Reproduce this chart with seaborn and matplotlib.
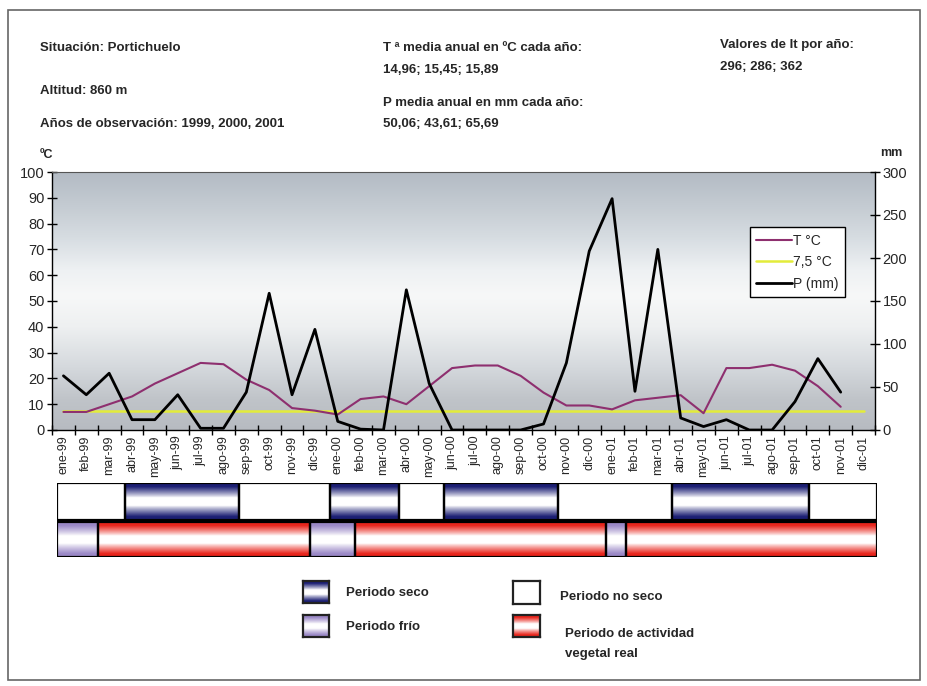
import numpy as np
import pandas as pd
import matplotlib
matplotlib.use("Agg")
import matplotlib.pyplot as plt
from matplotlib.colors import to_rgb
from matplotlib.patches import Rectangle
from matplotlib.lines import Line2D
import seaborn as sns

# ---------------- data ----------------
months = ["ene-99", "feb-99", "mar-99", "abr-99", "may-99", "jun-99", "jul-99", "ago-99",
          "sep-99", "oct-99", "nov-99", "dic-99",
          "ene-00", "feb-00", "mar-00", "abr-00", "may-00", "jun-00", "jul-00", "ago-00",
          "sep-00", "oct-00", "nov-00", "dic-00",
          "ene-01", "feb-01", "mar-01", "abr-01", "may-01", "jun-01", "jul-01", "ago-01",
          "sep-01", "oct-01", "nov-01", "dic-01"]
temp_c = [7, 7, 10, 13, 18, 22, 26, 25.5, 19.5, 15.5, 8.5, 7.5,
          6, 12, 13, 10, 17, 24, 25, 25, 21, 14.5, 9.5, 9.5,
          8, 11.5, 12.5, 13.5, 6.5, 24, 24, 25.3, 23, 17, 9, np.nan]
threshold_c = [7.5] * 36
precip_mm = [63, 41, 66, 12, 12, 41, 2, 2, 44, 159, 41, 117,
             10, 1, 0, 163, 54, 0, 0, 0, 0, 7, 78, 208,
             269, 45, 210, 14, 4, 12, 0, 0, 33, 83, 44, np.nan]

# periods in month units (0 = start of ene-99)
dry_periods = [(3, 8), (12, 15), (17, 22), (27, 33)]
wet_periods = [(0, 3), (8, 12), (15, 17), (22, 27), (33, 36)]
cold_periods = [(0, 1.8), (11.1, 13.1), (24.1, 25.0)]
active_periods = [(1.8, 11.1), (13.1, 24.1), (25.0, 36)]

header_left = ["Situación: Portichuelo", "Altitud: 860 m", "Años de observación: 1999, 2000, 2001"]
header_mid = ["T ª media anual en ºC cada año:", "14,96; 15,45; 15,89",
              "P media anual en mm cada año:", "50,06; 43,61; 65,69"]
header_right = ["Valores de It por año:", "296; 286; 362"]

# ---------------- style ----------------
sns.set_style("ticks")
plt.rcParams["font.family"] = ["Liberation Sans", "DejaVu Sans"]

W, H = 928, 686
fig = plt.figure(figsize=(W / 100, H / 100), dpi=100)


def fx(x):
    return x / W


def fy(y):
    return 1 - y / H


def box(x0, y0, x1, y1):
    return [fx(x0), fy(y1), (x1 - x0) / W, (y1 - y0) / H]


# outer frame
fig.add_artist(Rectangle((fx(8), fy(680)), (920 - 8) / W, (680 - 10) / H,
                         transform=fig.transFigure, fill=False, ec="#666666", lw=1.2))

# header texts
bold = dict(fontsize=9.5, fontweight="bold", va="center", ha="left")
fig.text(fx(40), fy(48), header_left[0], **bold)
fig.text(fx(40), fy(91), header_left[1], **bold)
fig.text(fx(40), fy(124), header_left[2], **bold)
fig.text(fx(383), fy(48), header_mid[0], **bold)
fig.text(fx(383), fy(70), header_mid[1], **bold)
fig.text(fx(383), fy(103), header_mid[2], **bold)
fig.text(fx(383), fy(124), header_mid[3], **bold)
fig.text(fx(720), fy(45), header_right[0], **bold)
fig.text(fx(720), fy(67), header_right[1], **bold)

# ---------------- main chart ----------------
ax = fig.add_axes(box(52, 172, 875, 430))
x = np.arange(len(months))

# background gradient
stops = [0.0, 0.12, 0.25, 0.4, 0.52, 0.62, 0.75, 0.88, 1.0]
cols = ["#b7bbc1", "#c0c4c9", "#d6dade", "#eef0f1", "#f7f8f8", "#eef1f3", "#d6dce1", "#c3cad1", "#b3bbc4"]
ys = np.linspace(0, 1, 256)
rgb = np.array([to_rgb(c) for c in cols])
bg = np.stack([np.interp(ys, stops, rgb[:, k]) for k in range(3)], axis=1)[::-1][:, None, :]
ax.imshow(bg, extent=(0, 1, 0, 1), transform=ax.transAxes, aspect="auto", zorder=0)

df = pd.DataFrame({"x": x, "T": temp_c, "thr": threshold_c, "P": precip_mm})
sns.lineplot(data=df, x="x", y="thr", ax=ax, color="#e3ec3a", lw=1.8, zorder=2)
sns.lineplot(data=df, x="x", y="T", ax=ax, color="#8e2f6f", lw=1.5, zorder=3)
ax.set_xlim(-0.5, len(months) - 0.5)
ax.set_ylim(0, 100)
ax.set_yticks(np.arange(0, 101, 10))
ax.set_xticks(np.arange(-0.5, len(months), 1))
ax.set_xticklabels([])
ax.set_xticks(x, minor=True)
ax.set_xticklabels(months, minor=True, rotation=90, fontsize=9)
ax.tick_params(axis="x", which="minor", length=0, pad=4)
ax.tick_params(axis="x", which="major", direction="inout", length=7, width=1, color="black")
ax.tick_params(axis="y", direction="inout", length=7, width=1, labelsize=10.5, pad=2, color="black")
ax.set_xlabel("")
ax.set_ylabel("")
ax.spines["right"].set_visible(False)
ax.spines["top"].set_color("#555555")
ax.spines["top"].set_linewidth(0.8)
for s in ["left", "bottom"]:
    ax.spines[s].set_color("black")
    ax.spines[s].set_linewidth(1)

ax2 = ax.twinx()
sns.lineplot(data=df, x="x", y="P", ax=ax2, color="black", lw=2.0, zorder=4)
ax2.set_ylim(0, 300)
ax2.set_yticks(np.arange(0, 301, 50))
ax2.tick_params(axis="y", direction="inout", length=7, width=1, labelsize=10.5, pad=2, color="black")
ax2.set_ylabel("")
ax2.set_xlabel("")
for s in ["top", "left", "bottom"]:
    ax2.spines[s].set_visible(False)
ax2.spines["right"].set_color("black")
ax2.spines["right"].set_linewidth(1)

fig.text(fx(40), fy(155), "ºC", fontsize=9, fontweight="bold", va="center", ha="left")
fig.text(fx(880), fy(153), "mm", fontsize=9, fontweight="bold", va="center", ha="left")

handles = [Line2D([], [], color="#8e2f6f", lw=1.5),
           Line2D([], [], color="#e3ec3a", lw=1.8),
           Line2D([], [], color="black", lw=2.0)]
leg = ax2.legend(handles, ["T °C", "7,5 °C", "P (mm)"], loc="upper left",
                 bbox_to_anchor=(0.848, 0.785), fontsize=10, frameon=True, fancybox=False,
                 borderpad=0.45, labelspacing=0.55, handlelength=2.6, handletextpad=0.05,
                 borderaxespad=0)
leg.get_frame().set_edgecolor("black")
leg.get_frame().set_linewidth(1)
leg.get_frame().set_facecolor("white")
leg.get_frame().set_alpha(1)


# ---------------- period bars ----------------
def grad_img(color, n=80):
    t = np.linspace(0, 1, n)
    w = np.clip((np.abs(t - 0.5) * 2 - 0.22) / 0.6, 0, 1) ** 0.85
    c = np.array(to_rgb(color))
    img = (1 - w)[:, None] * np.ones(3) + w[:, None] * c
    return img[:, None, :]


NAVY = "#1c1f74"
RED = "#e8251c"
LAV = "#9a88c6"

bax = fig.add_axes(box(57, 483, 877, 557))
bax.set_xlim(0, 36)
bax.set_ylim(0, 74)
bax.axis("off")
row1 = (74 - 37, 74)   # y range top row
row2 = (0, 35)


def seg(a, b, rng, color):
    if color is not None:
        bax.imshow(grad_img(color), extent=(a, b, rng[0], rng[1]), aspect="auto", zorder=1)
    else:
        bax.add_patch(Rectangle((a, rng[0]), b - a, rng[1] - rng[0], fc="white", ec="none", zorder=1))
    bax.add_patch(Rectangle((a, rng[0]), b - a, rng[1] - rng[0], fill=False, ec="black", lw=1.6, zorder=2))


for a, b in dry_periods:
    seg(a, b, row1, NAVY)
for a, b in wet_periods:
    seg(a, b, row1, None)
for a, b in cold_periods:
    seg(a, b, row2, LAV)
for a, b in active_periods:
    seg(a, b, row2, RED)
bax.set_xlim(0, 36)
bax.set_ylim(0, 74)


# ---------------- bottom legend ----------------
def legend_square(x0, y0, x1, y1, color):
    a = fig.add_axes(box(x0, y0, x1, y1))
    if color is not None:
        a.imshow(grad_img(color, 40), extent=(0, 1, 0, 1), aspect="auto")
    a.set_xlim(0, 1)
    a.set_ylim(0, 1)
    a.set_xticks([])
    a.set_yticks([])
    for s in a.spines.values():
        s.set_color("#222222")
        s.set_linewidth(1.6)


legend_square(303, 581, 329, 603, NAVY)
legend_square(303, 615, 329, 637, LAV)
legend_square(513, 581, 540, 604, None)
legend_square(513, 615, 540, 637, RED)
lab = dict(fontsize=9.5, fontweight="bold", va="center", ha="left")
fig.text(fx(346), fy(593), "Periodo seco", **lab)
fig.text(fx(346), fy(627), "Periodo frío", **lab)
fig.text(fx(560), fy(597), "Periodo no seco", **lab)
fig.text(fx(565), fy(634), "Periodo de actividad", **lab)
fig.text(fx(565), fy(654), "vegetal real", **lab)

fig.savefig("out.png", dpi=100)
